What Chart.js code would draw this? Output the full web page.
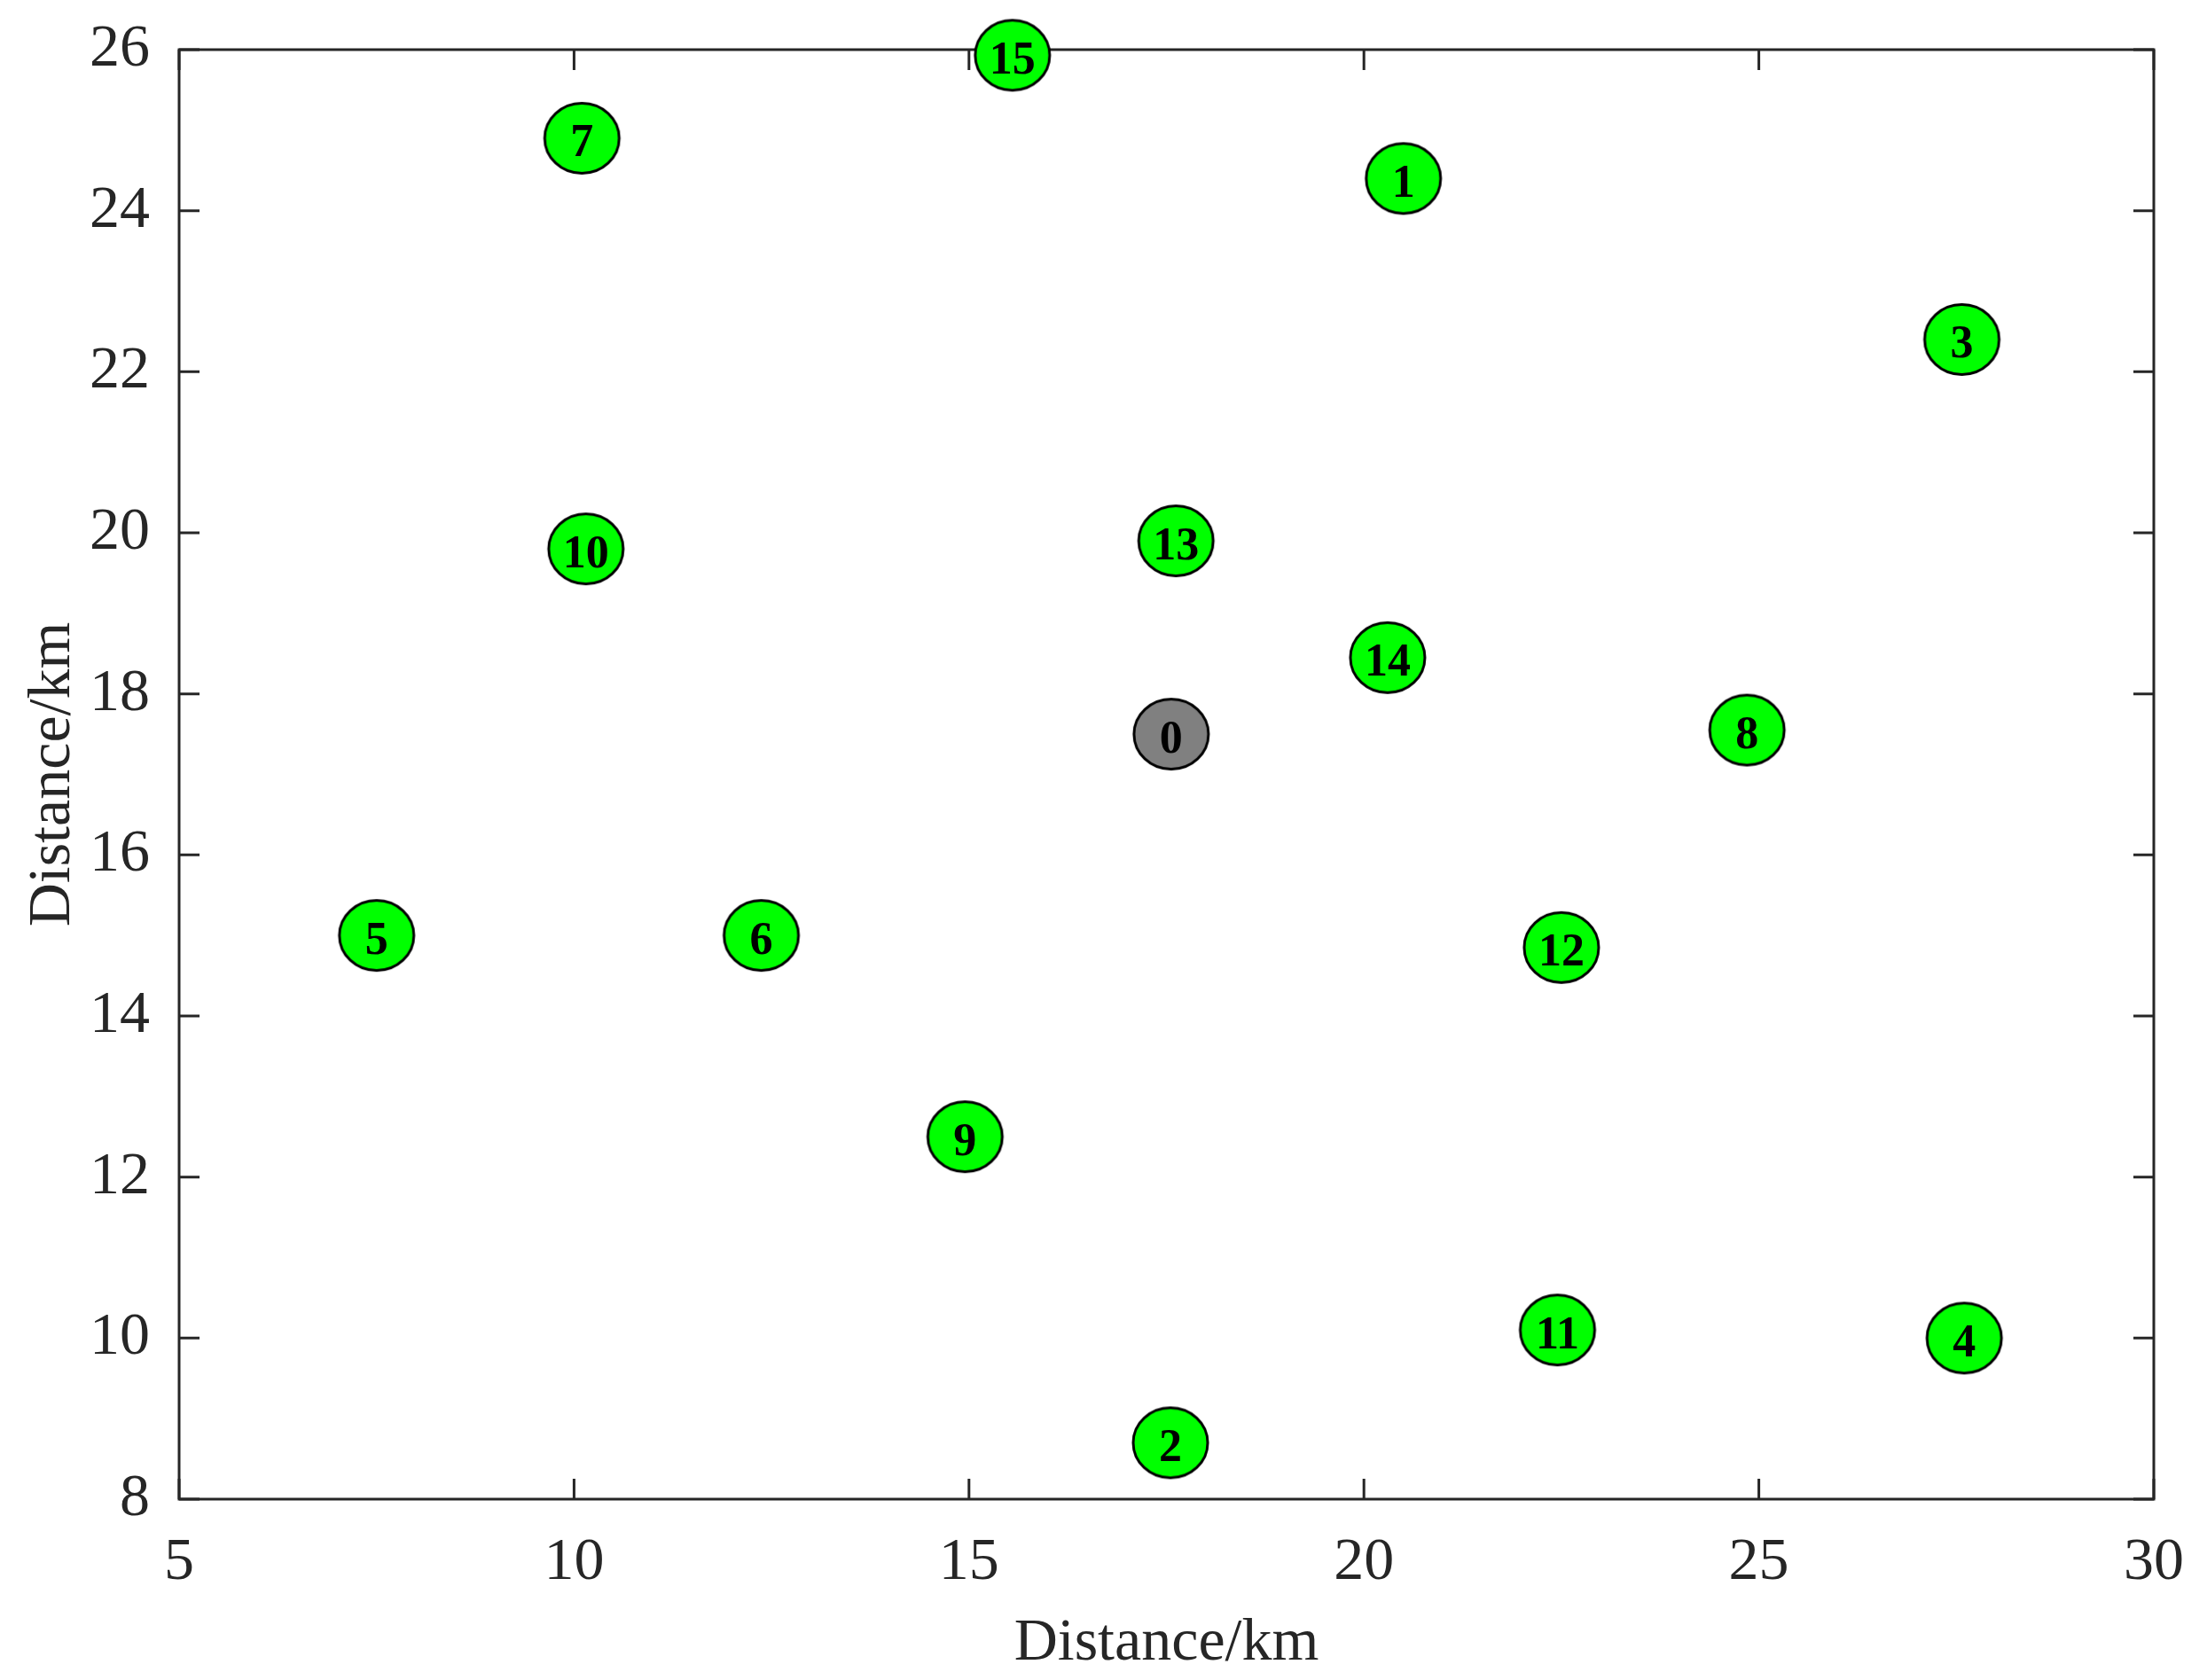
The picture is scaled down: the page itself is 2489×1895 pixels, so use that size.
<!DOCTYPE html>
<html>
<head>
<meta charset="utf-8">
<script src="https://cdn.jsdelivr.net/npm/chart.js@4/dist/chart.umd.min.js"></script>
<style>
  body { margin: 0; background: #fff; }
  #chart1 { display: block; }
</style>
</head>
<body>
<canvas id="chart1" width="2489" height="1895"></canvas>
<script>
// base station (node 0)
const baseId = ['0'];
const baseX = [17.56];
const baseY = [17.5];

// sensor nodes 1..15
const nodeIds = ['1', '2', '3', '4', '5', '6', '7', '8', '9', '10', '11', '12', '13', '14', '15'];
const nodeX = [20.5, 17.55, 27.57, 27.6, 7.5, 12.37, 10.1, 24.85, 14.95, 10.15, 22.45, 22.5, 17.62, 20.3, 15.55];
const nodeY = [24.4, 8.7, 22.4, 10.0, 15.0, 15.0, 24.9, 17.55, 12.5, 19.8, 10.1, 14.85, 19.9, 18.45, 25.93];

const xTicks = [5, 10, 15, 20, 25, 30];
const yTicks = [8, 10, 12, 14, 16, 18, 20, 22, 24, 26];

const axisColor = '#262626';
const tickFont = { family: 'Liberation Serif', size: 68 };

// ellipse marker image, like the matlab markers
function makeMarker(fill) {
    const c = document.createElement('canvas');
    c.width = 90;
    c.height = 86;
    const g = c.getContext('2d');
    g.beginPath();
    g.ellipse(45, 43, 42, 39.5, 0, 0, Math.PI * 2);
    g.fillStyle = fill;
    g.fill();
    g.lineWidth = 3;
    g.strokeStyle = '#000';
    g.stroke();
    return c;
}

function toPoints(xs, ys) {
    return xs.map((x, i) => ({ x: x, y: ys[i] }));
}

// box + inward ticks on all four sides
const boxPlugin = {
    id: 'box',
    beforeDatasetsDraw(chart) {
        const ctx = chart.ctx;
        const a = chart.chartArea;
        const xs = chart.scales.x, ys = chart.scales.y;
        const len = 23;
        ctx.save();
        ctx.strokeStyle = axisColor;
        ctx.lineWidth = 3;
        ctx.beginPath();
        xTicks.forEach(v => {
            const px = xs.getPixelForValue(v);
            ctx.moveTo(px, a.bottom); ctx.lineTo(px, a.bottom - len);
            ctx.moveTo(px, a.top); ctx.lineTo(px, a.top + len);
        });
        yTicks.forEach(v => {
            const py = ys.getPixelForValue(v);
            ctx.moveTo(a.left, py); ctx.lineTo(a.left + len, py);
            ctx.moveTo(a.right, py); ctx.lineTo(a.right - len, py);
        });
        ctx.stroke();
        ctx.strokeRect(a.left, a.top, a.right - a.left, a.bottom - a.top);
        ctx.restore();
    }
};

// node numbers on the markers
const labelPlugin = {
    id: 'nodeLabels',
    afterDatasetsDraw(chart) {
        const ctx = chart.ctx;
        ctx.save();
        ctx.font = 'bold 52px "Liberation Serif"';
        ctx.fillStyle = '#000';
        ctx.textAlign = 'center';
        ctx.textBaseline = 'middle';
        chart.data.datasets.forEach((ds, di) => {
            const meta = chart.getDatasetMeta(di);
            meta.data.forEach((el, i) => {
                ctx.fillText(ds.ids[i], el.x, el.y + 7);
            });
        });
        ctx.restore();
    }
};

function initializeChart() {
    const ctx = document.getElementById('chart1').getContext('2d');
    new Chart(ctx, {
        type: 'scatter',
        data: {
            datasets: [{
                label: 'Base',
                ids: baseId,
                data: toPoints(baseX, baseY),
                pointStyle: makeMarker('#808080'),
                pointRadius: 42,
                clip: false
            }, {
                label: 'Nodes',
                ids: nodeIds,
                data: toPoints(nodeX, nodeY),
                pointStyle: makeMarker('#00ff00'),
                pointRadius: 42,
                clip: false
            }]
        },
        options: {
            responsive: false,
            animation: false,
            layout: { padding: { top: 56, right: 60, left: 0, bottom: 0 } },
            plugins: {
                legend: { display: false },
                tooltip: { enabled: false }
            },
            scales: {
                x: {
                    type: 'linear',
                    min: 5,
                    max: 30,
                    afterFit: s => {
                        s.height = 204;
                        s.paddingLeft = 0;
                        s.paddingRight = 0;
                    },
                    afterBuildTicks: s => { s.ticks = xTicks.map(v => ({ value: v })); },
                    grid: { display: false },
                    border: { display: false },
                    ticks: { font: tickFont, color: axisColor, padding: 23, maxRotation: 0 },
                    title: {
                        display: true,
                        text: 'Distance/km',
                        font: tickFont,
                        color: axisColor,
                        padding: { top: 13, bottom: 0 }
                    }
                },
                y: {
                    type: 'linear',
                    min: 8,
                    max: 26,
                    afterFit: s => {
                        s.width = 202;
                        s.paddingTop = 0;
                        s.paddingBottom = 0;
                    },
                    afterBuildTicks: s => { s.ticks = yTicks.map(v => ({ value: v })); },
                    grid: { display: false },
                    border: { display: false },
                    ticks: { font: tickFont, color: axisColor, padding: 25 },
                    title: {
                        display: true,
                        text: 'Distance/km',
                        font: tickFont,
                        color: axisColor,
                        padding: { top: 19, bottom: 0 }
                    }
                }
            }
        },
        plugins: [boxPlugin, labelPlugin]
    });
}

window.onload = initializeChart;
</script>
</body>
</html>
